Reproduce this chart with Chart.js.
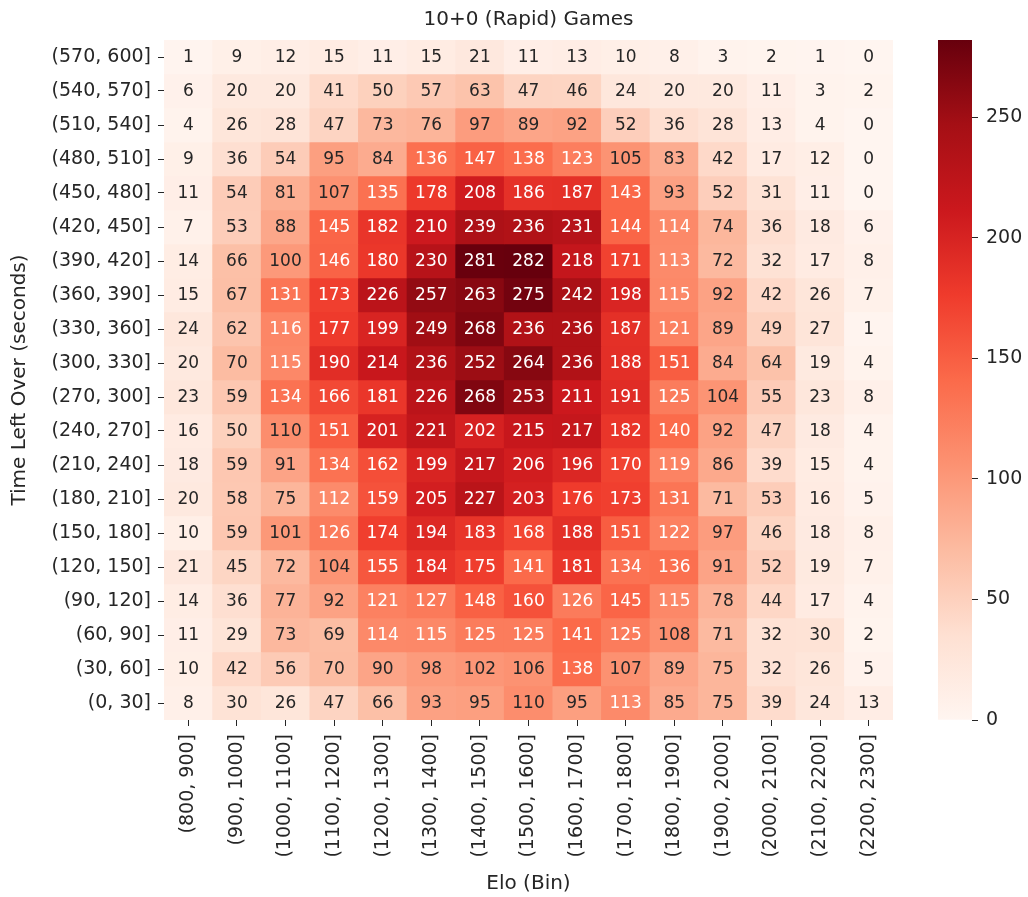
<!DOCTYPE html>
<html>
<head>
<meta charset="utf-8">
<script src="https://cdn.jsdelivr.net/npm/chart.js@4.4.1/dist/chart.umd.min.js"></script>
<style>
  html, body { margin: 0; padding: 0; background: #fff; }
  #wrap { position: relative; width: 1028px; height: 897px; }
  #heatmap { position: absolute; left: 0; top: 0; }
  #colorbar { position: absolute; left: 930px; top: 0; }
</style>
</head>
<body>
<div id="wrap">
  <canvas id="heatmap" width="930" height="897"></canvas>
  <canvas id="colorbar" width="98" height="897"></canvas>
</div>
<script>
// Elo bins along the bottom
const eloBins = ['(800, 900]', '(900, 1000]', '(1000, 1100]', '(1100, 1200]', '(1200, 1300]',
  '(1300, 1400]', '(1400, 1500]', '(1500, 1600]', '(1600, 1700]', '(1700, 1800]',
  '(1800, 1900]', '(1900, 2000]', '(2000, 2100]', '(2100, 2200]', '(2200, 2300]'];

// time left bins, top row first
const timeBins = ['(570, 600]', '(540, 570]', '(510, 540]', '(480, 510]', '(450, 480]',
  '(420, 450]', '(390, 420]', '(360, 390]', '(330, 360]', '(300, 330]',
  '(270, 300]', '(240, 270]', '(210, 240]', '(180, 210]', '(150, 180]',
  '(120, 150]', '(90, 120]', '(60, 90]', '(30, 60]', '(0, 30]'];

// game counts, same row order as timeBins
const counts = [
  [1, 9, 12, 15, 11, 15, 21, 11, 13, 10, 8, 3, 2, 1, 0],
  [6, 20, 20, 41, 50, 57, 63, 47, 46, 24, 20, 20, 11, 3, 2],
  [4, 26, 28, 47, 73, 76, 97, 89, 92, 52, 36, 28, 13, 4, 0],
  [9, 36, 54, 95, 84, 136, 147, 138, 123, 105, 83, 42, 17, 12, 0],
  [11, 54, 81, 107, 135, 178, 208, 186, 187, 143, 93, 52, 31, 11, 0],
  [7, 53, 88, 145, 182, 210, 239, 236, 231, 144, 114, 74, 36, 18, 6],
  [14, 66, 100, 146, 180, 230, 281, 282, 218, 171, 113, 72, 32, 17, 8],
  [15, 67, 131, 173, 226, 257, 263, 275, 242, 198, 115, 92, 42, 26, 7],
  [24, 62, 116, 177, 199, 249, 268, 236, 236, 187, 121, 89, 49, 27, 1],
  [20, 70, 115, 190, 214, 236, 252, 264, 236, 188, 151, 84, 64, 19, 4],
  [23, 59, 134, 166, 181, 226, 268, 253, 211, 191, 125, 104, 55, 23, 8],
  [16, 50, 110, 151, 201, 221, 202, 215, 217, 182, 140, 92, 47, 18, 4],
  [18, 59, 91, 134, 162, 199, 217, 206, 196, 170, 119, 86, 39, 15, 4],
  [20, 58, 75, 112, 159, 205, 227, 203, 176, 173, 131, 71, 53, 16, 5],
  [10, 59, 101, 126, 174, 194, 183, 168, 188, 151, 122, 97, 46, 18, 8],
  [21, 45, 72, 104, 155, 184, 175, 141, 181, 134, 136, 91, 52, 19, 7],
  [14, 36, 77, 92, 121, 127, 148, 160, 126, 145, 115, 78, 44, 17, 4],
  [11, 29, 73, 69, 114, 115, 125, 125, 141, 125, 108, 71, 32, 30, 2],
  [10, 42, 56, 70, 90, 98, 102, 106, 138, 107, 89, 75, 32, 26, 5],
  [8, 30, 26, 47, 66, 93, 95, 110, 95, 113, 85, 75, 39, 24, 13]
];

const colorbarTicks = [0, 50, 100, 150, 200, 250];

const TEXT = '#262626';
const nRows = timeBins.length;
const vmax = Math.max(...counts.flat());

Chart.defaults.font.family = '"DejaVu Sans", sans-serif';
Chart.defaults.color = TEXT;

// matplotlib "Reds"
const redsStops = ['#fff5f0', '#fee0d2', '#fcbba1', '#fc9272', '#fb6a4a', '#ef3b2c', '#cb181d', '#a50f15', '#67000d'];
const hexToRgb = h => [1, 3, 5].map(i => parseInt(h.substr(i, 2), 16));

function reds(t) {
  t = Math.min(1, Math.max(0, t));
  const pos = t * (redsStops.length - 1);
  const i = Math.min(redsStops.length - 2, Math.floor(pos));
  const f = pos - i;
  const a = hexToRgb(redsStops[i]), b = hexToRgb(redsStops[i + 1]);
  const c = a.map((v, k) => Math.round(v + (b[k] - v) * f));
  return `rgb(${c[0]}, ${c[1]}, ${c[2]})`;
}

// one floating-bar dataset per time row
const datasets = timeBins.map((label, r) => ({
  label,
  data: eloBins.map(() => [nRows - 1 - r, nRows - r]),
  backgroundColor: counts[r].map(v => reds(v / vmax)),
  borderWidth: 0,
  grouped: false,
  barPercentage: 1,
  categoryPercentage: 1
}));

// write the count in each cell
const cellLabels = {
  id: 'cellLabels',
  afterDatasetsDraw(chart) {
    const ctx = chart.ctx;
    ctx.save();
    ctx.font = '17px "DejaVu Sans"';
    ctx.textAlign = 'center';
    ctx.textBaseline = 'middle';
    chart.data.datasets.forEach((ds, r) => {
      chart.getDatasetMeta(r).data.forEach((bar, c) => {
        const v = counts[r][c];
        const p = bar.getCenterPoint();
        ctx.fillStyle = v / vmax > 0.393 ? '#ffffff' : TEXT;
        ctx.fillText(String(v), p.x, p.y + 1);
      });
    });
    ctx.restore();
  }
};

new Chart(document.getElementById('heatmap'), {
  type: 'bar',
  data: { labels: eloBins, datasets },
  options: {
    responsive: false,
    animation: false,
    layout: { padding: { left: 0, right: 37, top: 0, bottom: 0 } },
    plugins: {
      legend: { display: false },
      tooltip: { enabled: false },
      title: {
        display: true,
        text: '10+0 (Rapid) Games',
        fullSize: false,
        color: TEXT,
        font: { size: 20, weight: 'normal' },
        padding: { top: 8, bottom: 8 }
      }
    },
    scales: {
      x: {
        grid: { offset: false, drawOnChartArea: false, tickLength: 6, tickColor: TEXT },
        border: { display: false },
        ticks: { autoSkip: false, minRotation: 90, maxRotation: 90, padding: 8, font: { size: 19 } },
        title: { display: true, text: 'Elo (Bin)', font: { size: 20 }, padding: { top: 0, bottom: 1 } },
        afterFit: s => { s.height = 177; }
      },
      y: {
        min: 0,
        max: nRows,
        afterBuildTicks: s => { s.ticks = timeBins.map((_, i) => ({ value: i + 0.5 })); },
        ticks: {
          autoSkip: false,
          padding: 7,
          font: { size: 19 },
          callback: v => timeBins[nRows - 1 - Math.floor(v)]
        },
        grid: { drawOnChartArea: false, tickLength: 6, tickColor: TEXT },
        border: { display: false },
        title: { display: true, text: 'Time Left Over (seconds)', font: { size: 20 }, padding: { top: 8, bottom: 0 } },
        afterFit: s => { s.width = 164; }
      }
    }
  },
  plugins: [cellLabels]
});

// colorbar
new Chart(document.getElementById('colorbar'), {
  type: 'bar',
  data: {
    labels: [''],
    datasets: [{
      data: [[0, vmax]],
      borderWidth: 0,
      barPercentage: 1,
      categoryPercentage: 1,
      backgroundColor: c => {
        const chart = c.chart;
        if (!chart.chartArea) return reds(0.5);
        const y = chart.scales.y;
        const g = chart.ctx.createLinearGradient(0, y.getPixelForValue(0), 0, y.getPixelForValue(vmax));
        redsStops.forEach((col, i) => g.addColorStop(i / (redsStops.length - 1), col));
        return g;
      }
    }]
  },
  options: {
    responsive: false,
    animation: false,
    layout: { padding: { left: 8, right: 0, top: 40, bottom: 177 } },
    plugins: { legend: { display: false }, tooltip: { enabled: false } },
    scales: {
      x: { display: false },
      y: {
        position: 'right',
        min: 0,
        max: vmax,
        afterBuildTicks: s => { s.ticks = colorbarTicks.map(v => ({ value: v })); },
        ticks: { padding: 8, font: { size: 19 } },
        grid: { drawOnChartArea: false, tickLength: 6, tickColor: TEXT },
        border: { display: false },
        afterFit: s => { s.width = 56; }
      }
    }
  }
});
</script>
</body>
</html>
